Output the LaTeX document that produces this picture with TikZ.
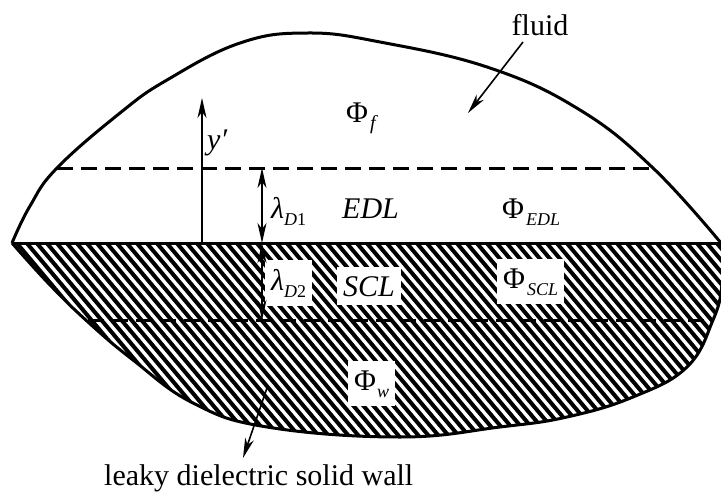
\documentclass[tikz,border=0pt]{standalone}
\usepackage{fontspec}
\setmainfont{Liberation Serif}
\usetikzlibrary{arrows.meta}
\newcommand\subtxt[1]{\raisebox{-7pt}{\fontsize{18}{18}\selectfont #1}}
\begin{document}
\begin{tikzpicture}[x=1pt,y=-1pt,
  outline/.style={line width=3pt, line join=round},
  dashline/.style={line width=3pt, dash pattern=on 16pt off 8pt},
  hatchline/.style={line width=4pt},
  lbl/.style={inner sep=0pt, font=\fontsize{30}{32}\selectfont},
  wbox/.style={fill=white, inner xsep=6pt, inner ysep=9pt},
  arr/.style={line width=1.6pt, -{Stealth[length=20pt,width=9pt,inset=6pt]}},
  dbl/.style={line width=1.6pt, {Stealth[length=20pt,width=9pt,inset=6pt]}-{Stealth[length=20pt,width=9pt,inset=6pt]}},
]
\useasboundingbox (0,0) rectangle (721,498);
% hatching of the wall
\begin{scope}
  \clip plot[smooth,tension=0.7] coordinates {(12,243) (50,285) (88,322) (133,360) (193,403) (267,427) (400,437) (500,427) (567,417) (633,397) (687,367) (713,320) (722,285) (723,243)} -- cycle;
  \foreach \i in {-230,-220,...,740} \draw[hatchline] (\i,235) -- ++(210,250);
\end{scope}
% outline
\draw[outline] plot[smooth,tension=0.7] coordinates {(12,243) (30,206) (57,168) (120,113) (167,80) (240,43) (307,33) (380,42) (490,68) (580,110) (653,168) (721,243)};
\draw[outline] plot[smooth,tension=0.7] coordinates {(12,243) (50,285) (88,322) (133,360) (193,403) (267,427) (400,437) (500,427) (567,417) (633,397) (687,367) (713,320) (722,285) (723,243)};
\draw[outline] (12,243) -- (721,243);
% dashed layer boundaries
\draw[dashline] (57,168) -- (653,168);
\draw[dashline] (88,320) -- (713,320);
% boxed labels
\node[lbl, wbox, anchor=base west] (ld2) at (265,290) {\textit{λ}\subtxt{\textit{D}2}};
\node[lbl, wbox, anchor=base west] (scl) at (337,296) {\textit{SCL}};
\node[lbl, wbox, anchor=base west] (phiscl) at (497,288) {Φ\kern2pt\subtxt{\textit{SCL}}};
\node[lbl, wbox, anchor=base west] (phiw) at (348,390) {Φ\kern1pt\subtxt{\textit{w}}};
% plain labels
\node[lbl, anchor=base] (fluid) at (540,35) {fluid};
\node[lbl, anchor=base west] (wall) at (104,485) {leaky dielectric solid wall};
\node[lbl, anchor=base west] (phif) at (346,122) {Φ\kern2pt\subtxt{\fontsize{20}{20}\selectfont\textit{f}}};
\node[lbl, anchor=base west] (yp) at (207,149) {\textit{y′}};
\node[lbl, anchor=base west] (ld1) at (271,218) {\textit{λ}\subtxt{\textit{D}1}};
\node[lbl, anchor=base west] (edl) at (342,218) {\textit{EDL}};
\node[lbl, anchor=base west] (phiedl) at (502,218) {Φ\kern2pt\subtxt{\textit{EDL}}};
% arrows
\coordinate (yb) at (202,243);
\coordinate (yt) at (202,98);
\draw[arr] (yb) -- (yt);
\coordinate (l1t) at (262,168);
\coordinate (l1b) at (262,243);
\coordinate (l2b) at (262,320);
\draw[dbl] (l1t) -- (l1b);
\draw[dbl] (l1b) -- (l2b);
\coordinate (fa) at (523,42);
\coordinate (fb) at (468,113);
\draw[arr] (fa) -- (fb);
\coordinate (wa) at (267,388);
\coordinate (wb) at (243,458);
\draw[arr] (wa) -- (wb);
\end{tikzpicture}
\end{document}
